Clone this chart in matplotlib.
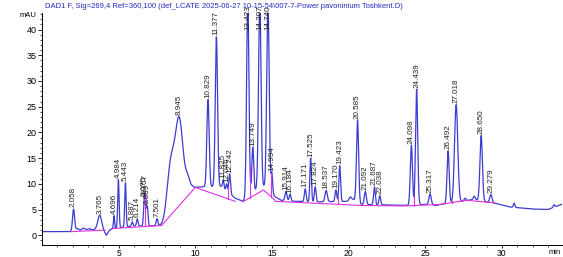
import numpy as np
import matplotlib
matplotlib.use("Agg")
import matplotlib.pyplot as plt

plt.rcParams['font.family'] = ['Liberation Sans', 'DejaVu Sans']

title = r"DAD1 F, Sig=269,4 Ref=360,100 (def_LCATE 2025-06-27 10-15-54\007-7-Power pavoninium Toshkent.D)"

# signal baseline (time min, mAU)
base_t = [0, 1.8, 2.3, 2.5, 2.7, 2.9, 3.1, 3.3, 3.5, 4.0, 4.2, 4.4, 4.6, 5.3, 6.0, 7.0, 7.8, 8.0,
          9.0, 9.8, 10.5, 11.7, 12.6, 13.1, 13.6, 14.0, 14.5, 15.2, 15.6, 16.5, 18.0, 20.0, 20.3,
          20.8, 22.5, 23.5, 25.0, 25.7, 26.0, 27.6, 28.2, 28.9, 29.6, 30.5, 32.0, 33.0, 33.9]
base_v = [0.7, 0.7, 1.3, 1.0, 1.4, 1.1, 1.3, 1.0, 1.2, 1.0, 0.0, 1.0, 1.3, 1.6, 1.8, 1.8, 1.9, 2.2,
          6.0, 9.3, 9.4, 9.5, 7.2, 6.6, 8.0, 9.0, 9.5, 7.5, 6.8, 6.6, 6.5, 6.6, 7.0,
          6.0, 5.9, 5.8, 6.0, 5.8, 6.0, 6.7, 7.0, 6.5, 6.2, 5.5, 5.1, 5.0, 6.0]

# labelled peaks: retention time, apex height (mAU), width (sigma, min)
peak_rt = [2.058, 3.765, 4.696, 4.984, 5.443, 5.887, 6.214, 6.675, 6.757, 6.869, 7.501,
           8.945, 10.829, 11.377, 11.825, 12.046, 12.242, 13.423, 13.749, 14.207, 14.740,
           14.994, 15.914, 16.184, 17.171, 17.525, 17.824, 18.537, 19.170, 19.423, 20.585,
           21.092, 21.687, 22.038, 24.098, 24.439, 25.317, 26.492, 27.018, 28.650, 29.279]
peak_h = [5.1, 3.9, 3.8, 10.8, 10.2, 2.6, 3.2, 6.8, 6.3, 5.6, 3.2,
          24.8, 26.4, 38.6, 10.8, 10.0, 11.9, 46.0, 17.1, 46.0, 45.0,
          12.0, 8.5, 8.0, 9.0, 15.0, 9.4, 8.7, 8.8, 13.5, 22.4,
          8.5, 9.4, 7.7, 17.5, 28.4, 8.0, 16.4, 25.4, 19.4, 7.9]
peak_w = [0.065, 0.12, 0.035, 0.045, 0.045, 0.045, 0.05, 0.05, 0.04, 0.045, 0.055,
          0.25, 0.075, 0.075, 0.045, 0.045, 0.055, 0.075, 0.06, 0.08, 0.08,
          0.05, 0.065, 0.055, 0.055, 0.05, 0.055, 0.075, 0.055, 0.055, 0.07,
          0.065, 0.055, 0.055, 0.07, 0.07, 0.075, 0.07, 0.105, 0.08, 0.075]

# unlabelled shoulders / bumps: time, height above baseline, sigma
extra_rt = [8.4, 9.5, 20.1, 27.6, 28.2, 30.8, 33.4]
extra_h = [10.0, 2.5, 0.7, 0.5, 0.6, 0.8, 0.5]
extra_w = [0.24, 0.15, 0.08, 0.06, 0.06, 0.05, 0.05]

# integration baselines (magenta)
int_t = [[1.9, 4.1], [4.6, 7.8], [7.8, 10.0], [10.0, 12.6], [13.1, 14.45, 15.2],
         [15.2, 20.8], [20.8, 23.6, 26.0], [26.0, 27.7, 29.5]]
int_v = [[0.7, 1.0], [1.3, 1.9], [1.9, 9.3], [9.3, 6.6], [6.5, 8.8, 6.8],
         [6.6, 5.8], [5.8, 5.7, 6.0], [6.0, 6.8, 6.3]]
drop_t = [6.75, 12.15, 13.57, 14.95, 19.3, 24.26, 26.72]

t = np.linspace(0, 33.9, 6000)
y = np.interp(t, base_t, base_v)
for rt, h, w in zip(peak_rt, peak_h, peak_w):
    amp = h - np.interp(rt, base_t, base_v)
    if rt == 8.945:
        amp = 16.5
    y = y + amp * np.exp(-0.5 * ((t - rt) / w) ** 2)
for rt, h, w in zip(extra_rt, extra_h, extra_w):
    y = y + h * np.exp(-0.5 * ((t - rt) / w) ** 2)

fig = plt.figure(figsize=(5.63, 2.57), dpi=100)
ax = fig.add_axes([0.0746, 0.046, 0.923, 0.903])
ax.plot(t, y, color='#3c3cd2', lw=0.9)

for tt, vv in zip(int_t, int_v):
    ax.plot(tt, vv, color='#e030e0', lw=0.8)
for dt in drop_t:
    bl = None
    for tt, vv in zip(int_t, int_v):
        if tt[0] <= dt <= tt[-1]:
            bl = np.interp(dt, tt, vv)
    sig = np.interp(dt, t, y)
    if bl is not None:
        ax.plot([dt, dt], [bl, sig], color='#e030e0', lw=0.8)

ymax = 43.2
for rt, h in zip(peak_rt, peak_h):
    yy = np.interp(rt, t, y)
    lab_y = 40.0 if yy > ymax else yy + 0.3
    ax.text(rt, lab_y, f"{rt:.3f}", rotation=90, fontsize=5.8, ha='center', va='bottom',
            color='#222222', clip_on=False)

ax.set_xlim(0, 33.9)
ax.set_ylim(-1.93, ymax)
ax.spines['top'].set_visible(False)
ax.spines['right'].set_visible(False)
ax.set_xticks([5, 10, 15, 20, 25, 30])
ax.set_xticks(np.arange(1, 34, 1), minor=True)
ax.set_yticks([0, 5, 10, 15, 20, 25, 30, 35, 40])
ax.set_yticks(np.arange(-1, 44, 1), minor=True)
ax.tick_params(axis='x', which='major', labelsize=6.2, length=2.5, width=0.6, pad=0.5)
ax.tick_params(axis='y', which='major', labelsize=6.5, length=3, width=0.6, pad=1)
ax.tick_params(axis='both', which='minor', length=1.5, width=0.5)
for s in ['left', 'bottom']:
    ax.spines[s].set_linewidth(0.7)

fig.text(0.035, 0.94, "mAU", fontsize=5.5, ha='left', va='center')
fig.text(0.985, 0.018, "min", fontsize=5.5, ha='center', va='center')
fig.text(0.08, 0.99, title, fontsize=5.5, color='#2828c0', ha='left', va='top')

fig.savefig("out.png", dpi=100)
